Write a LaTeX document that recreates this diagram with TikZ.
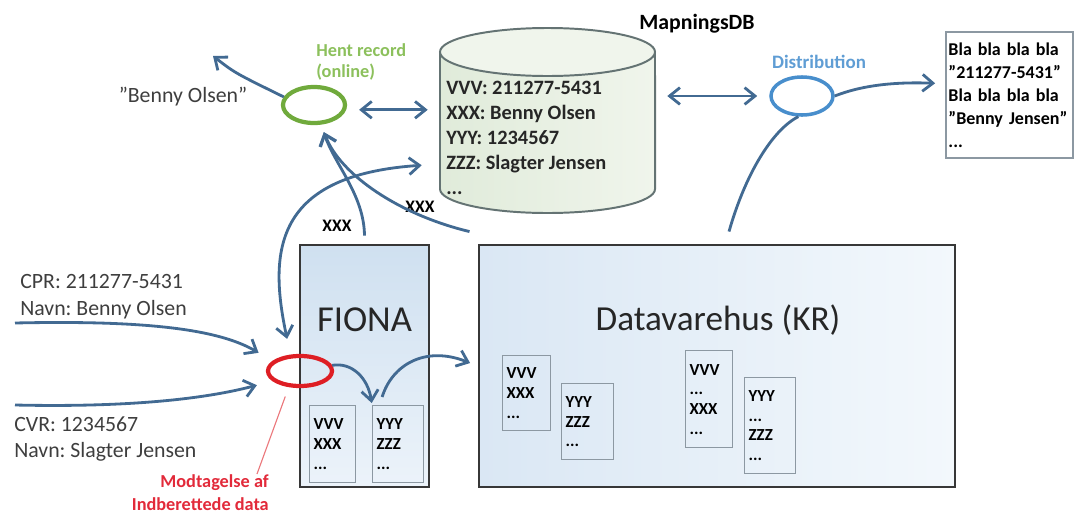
\documentclass[tikz,border=0pt]{standalone}
\usepackage{fontspec}
\setmainfont{Carlito}
\usetikzlibrary{arrows.meta,shapes.geometric}
\frenchspacing

\definecolor{arrowblue}{RGB}{66,106,146}
\definecolor{hentgreen}{RGB}{112,170,60}
\definecolor{henttext}{RGB}{140,192,92}
\definecolor{distblue}{RGB}{72,142,204}
\definecolor{disttext}{RGB}{95,157,212}
\definecolor{recvred}{RGB}{222,30,36}
\definecolor{recvtext}{RGB}{226,42,58}
\definecolor{boxline}{RGB}{55,55,55}
\definecolor{subline}{RGB}{140,152,162}
\definecolor{dbline}{RGB}{100,115,115}
\definecolor{dbfill}{RGB}{224,235,218}
\definecolor{dbtop}{RGB}{240,245,236}
\definecolor{fionatop}{RGB}{207,224,240}
\definecolor{fionabot}{RGB}{236,243,250}
\definecolor{dvhleft}{RGB}{218,231,244}
\definecolor{dvhright}{RGB}{243,248,252}
\definecolor{textgray}{RGB}{62,62,62}

\begin{document}
\begin{tikzpicture}[x=0.025cm,y=-0.025cm,>={Straight Barb[length=0.26cm,width=0.42cm]},
	flow/.style={draw=arrowblue,line width=2pt},
	ring/.style={ellipse,line width=3pt,inner sep=0pt},
	sysbox/.style={draw=boxline,line width=2pt,inner sep=0pt},
	tbl/.style={draw=subline,line width=0.9pt,align=left,anchor=north west,inner xsep=0.1cm,inner ysep=0pt,font=\bfseries\fontsize{12}{14}\selectfont},
	plain/.style={text=textgray,align=left,inner sep=0pt,font=\fontsize{15.5}{19.1}\selectfont}]
	\useasboundingbox (0,0) rectangle (1080,514);

	% MapningsDB
	\shade[left color=dbfill,right color=dbtop] (440,52) -- (440,189) arc[start angle=180,end angle=360,x radius=2.6875cm,y radius=0.6cm] -- (655,52) -- cycle;
	\draw[dbline,line width=1.4pt] (440,52) -- (440,189) arc[start angle=180,end angle=360,x radius=2.6875cm,y radius=0.6cm] -- (655,52);
	\draw[dbline,line width=1.4pt,fill=dbtop] (547.5,52) ellipse[x radius=2.6875cm,y radius=0.6cm];
	\node[minimum width=5.375cm,minimum height=4.625cm] (db) at (547.5,120.5) {};
	\node[anchor=west,align=left,inner sep=0pt,text=black!85,font=\bfseries\fontsize{14.5}{17.7}\selectfont] (dbtxt) at (446,138) {VVV: 211277-5431\\XXX: Benny Olsen\\YYY: 1234567\\ZZZ: Slagter Jensen\\...};
	\node[font=\bfseries\fontsize{15.5}{18}\selectfont] (dbname) at (697,24) {MapningsDB};

	% systems
	\node[sysbox,top color=fionatop,bottom color=fionabot,minimum width=3.225cm,minimum height=6.05cm] (fiona) at (364.5,366) {};
	\node[anchor=base,font=\fontsize{26}{30}\selectfont,text=black!85] (fionalbl) at (364.5,331) {FIONA};
	\node[sysbox,left color=dvhleft,right color=dvhright,minimum width=11.9cm,minimum height=6.05cm] (dvh) at (717,366) {};
	\node[anchor=base,font=\fontsize{25}{30}\selectfont,text=black!85] (dvhlbl) at (718,330) {Datavarehus (KR)};

	\node[tbl,minimum width=1.15cm,minimum height=1.925cm,text width=0.95cm] (f1) at (309,405) {VVV\\XXX\\...};
	\node[tbl,minimum width=1.275cm,minimum height=1.925cm,text width=1.075cm] (f2) at (372,405) {YYY\\ZZZ\\...};
	\node[tbl,minimum width=1.2cm,minimum height=1.875cm,text width=1cm] (d1) at (502,355) {VVV\\XXX\\...};
	\node[tbl,minimum width=1.3cm,minimum height=1.9cm,text width=1.1cm] (d2) at (561,383) {YYY\\ZZZ\\...};
	\node[tbl,minimum width=1.175cm,minimum height=2.425cm,text width=0.975cm] (d3) at (685,350) {VVV\\...\\XXX\\...};
	\node[tbl,minimum width=1.275cm,minimum height=2.4cm,text width=1.075cm] (d4) at (744,377) {YYY\\...\\ZZZ\\...};

	% output document
	\node[draw=subline,line width=1.2pt,fill=white,minimum width=3.175cm,minimum height=3.15cm,text width=3.05cm,align=left,inner xsep=0.06cm,font=\bfseries\fontsize{12.8}{16.3}\selectfont] (out) at (1009.5,95) {Bla bla bla bla\\”211277-5431”\\Bla bla bla bla\\”Benny Jensen”\\...};

	% rings
	\node[ring,draw=hentgreen,minimum width=1.55cm,minimum height=0.9cm] (hent) at (314,105) {};
	\node[ring,draw=distblue,line width=2.5pt,minimum width=1.55cm,minimum height=0.95cm] (dist) at (802,96) {};
	\node[ring,draw=recvred,minimum width=1.6cm,minimum height=0.75cm] (recv) at (300,371) {};
	\node[anchor=west,align=left,inner sep=0pt,text=henttext,font=\bfseries\fontsize{13}{15}\selectfont] (hentlbl) at (316,62) {Hent record\\(online)};
	\node[text=disttext,font=\bfseries\fontsize{13.5}{16}\selectfont] (distlbl) at (819,62) {Distribution};
	\node[anchor=north east,align=right,inner sep=0pt,text=recvtext,font=\bfseries\fontsize{13}{16.3}\selectfont] (mod) at (269,474) {Modtagelse af\\Indberettede data};

	% inputs and outputs
	\node[plain] (bo) at (183,97) {”Benny Olsen”};
	\node[plain,anchor=west] (cpr) at (20,297) {CPR: 211277-5431\\Navn: Benny Olsen};
	\node[plain,anchor=west] (cvr) at (14,439) {CVR: 1234567\\Navn: Slagter Jensen};
	\node[font=\bfseries\fontsize{12.5}{14}\selectfont] (xa) at (337,226) {XXX};
	\node[font=\bfseries\fontsize{12.5}{14}\selectfont] (xb) at (420,207) {XXX};
	\coordinate (boTip) at (213,56);
	\coordinate (cprIn) at (15,323);
	\coordinate (cvrIn) at (15,405);

	\draw[flow,->] (hent.165) .. controls (235,73) .. (boTip);
	\draw[flow,<->,shorten <=0.3cm,shorten >=0.3cm] ([yshift=-0.12cm]hent.east) -- ([yshift=-0.12cm]hent.east -| db.west);
	\draw[flow,<->,shorten <=0.3cm,shorten >=0.3cm] (dist.west -| db.east) -- (dist.west);
	\draw[flow,->,shorten >=0.25cm] (dist.east) .. controls (865,84) and (900,82) .. (out.170);
	\draw[flow] ([xshift=0.3cm,yshift=0.3cm]dvh.north) .. controls (745,175) and (772,130) .. (dist.260);
	\draw[flow,->,shorten >=0.2cm] ([yshift=0.2cm]fiona.north) .. controls (364,195) and (335,165) .. (hent.290);
	\draw[flow,->,shorten >=0.2cm] ([xshift=-0.2cm,yshift=0.3cm]dvh.north west) .. controls (400,215) and (340,175) .. (hent.290);
	\draw[flow,<->,shorten <=0.4cm,shorten >=0.45cm] (recv.120) .. controls (268,250) and (275,175) .. (db.202);
	\draw[flow,->,shorten >=0.4cm] (cprIn) .. controls (150,320) and (220,330) .. (recv.160);
	\draw[flow,->,shorten >=0.4cm] (cvrIn) .. controls (150,408) and (220,395) .. (recv.200);
	\draw[flow,->,shorten >=0.05cm] (recv.10) .. controls (352,362) and (368,378) .. (f2.north west);
	\draw[flow,->,shorten >=0.2cm] ([xshift=-0.4cm,yshift=0.2cm]f2.north) .. controls (392,365) and (425,345) .. (dvh.west);
	\draw[recvred!60,line width=0.8pt,shorten <=0.25cm] (recv.235) -- ([xshift=-0.3cm]mod.north east);
\end{tikzpicture}
\end{document}
